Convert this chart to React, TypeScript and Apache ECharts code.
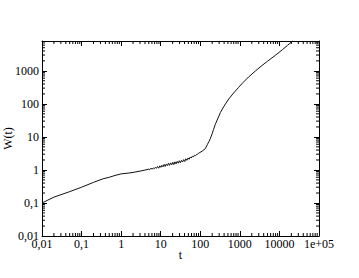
import React, { useEffect, useRef } from 'react';
import * as echarts from 'echarts';

const tValues = [
  0.01, 0.02, 0.05, 0.1, 0.2, 0.35, 0.5, 0.7, 1, 1.5, 2, 3, 4,
  5, 5.3, 5.7, 6.1, 6.5, 6.9, 7.3, 7.8, 8.3, 8.9, 9.5, 10.1, 10.7, 11.4, 12.2, 13, 13.8, 14.7,
  15.7, 16.7, 17.8, 19, 20.2, 21.5, 22.9, 24.4, 26, 27.7, 29.5, 31.4, 33.5, 35.7, 38, 40.5,
  43.1, 45.9, 48.9, 52.1, 55.5, 59.1, 62.9, 67, 71.4, 76, 81, 86.2, 91.8, 97.8,
  100, 115, 134, 150, 165, 178, 200, 215, 240, 280, 323, 400, 525, 700, 935, 1200, 1660,
  2500, 3600, 5000, 7900, 12000, 16000, 21000, 22000,
];
const wValues = [
  0.1, 0.15, 0.22, 0.3, 0.42, 0.54, 0.6, 0.68, 0.76, 0.8, 0.84, 0.92, 0.99,
  1.06, 1.03, 1.12, 1.05, 1.15, 1.09, 1.2, 1.12, 1.27, 1.13, 1.33, 1.2, 1.38, 1.24, 1.47, 1.27, 1.5, 1.35,
  1.6, 1.37, 1.63, 1.44, 1.7, 1.45, 1.76, 1.52, 1.81, 1.6, 1.9, 1.64, 1.95, 1.74, 2.05, 1.8,
  2.17, 1.96, 2.3, 2.1, 2.45, 2.3, 2.6, 2.48, 2.78, 2.7, 2.97, 3.02, 3.24, 3.36,
  3.45, 3.8, 4.4, 5.8, 7.2, 8.7, 12.5, 16.5, 24, 37, 55, 86, 141, 215, 318, 440, 650,
  1000, 1440, 1950, 2950, 4400, 5900, 7800, 8200,
];

const xMin = 0.01;
const xMax = 100000;
const yMin = 0.01;
const yMax = 8000;

const xTickExps = [-2, -1, 0, 1, 2, 3, 4, 5];
const xTickLabels = ['0,01', '0,1', '1', '10', '100', '1000', '10000', '1e+05'];
const yTickExps = [-2, -1, 0, 1, 2, 3];
const yTickLabels = ['0,01', '0,1', '1', '10', '100', '1000'];
const minorMultipliers = [2, 3, 4, 5, 6, 7, 8, 9];

function minorTicks(lo: number, hi: number): number[] {
  const out: number[] = [];
  for (let e = Math.floor(Math.log10(lo)); e <= Math.ceil(Math.log10(hi)); e++) {
    for (const m of minorMultipliers) {
      const v = m * Math.pow(10, e);
      if (v > lo && v < hi) out.push(v);
    }
  }
  return out;
}

const FONT = "'Liberation Serif', 'Times New Roman', serif";
const INK = '#000';

function labelFor(exps: number[], labels: string[]) {
  return (v: number) => {
    const e = Math.log10(v);
    const r = Math.round(e);
    if (Math.abs(e - r) > 1e-6) return '';
    const i = exps.indexOf(r);
    return i >= 0 ? labels[i] : '';
  };
}

export default function App() {
  const ref = useRef<HTMLDivElement>(null);
  useEffect(() => {
    if (!ref.current) return;
    const chart = echarts.init(ref.current, undefined, { renderer: 'svg' });
    const axisLine = { show: true, lineStyle: { color: INK, width: 1 } };
    const majorTick = { show: true, inside: true, length: 5, lineStyle: { color: INK, width: 1 } };
    const xMinor = minorTicks(xMin, xMax);
    const yMinor = minorTicks(yMin, yMax);
    chart.setOption({
      animation: false,
      backgroundColor: '#fff',
      grid: { left: 42, right: 40, top: 41, bottom: 42, containLabel: false, outerBoundsMode: 'none' },
      xAxis: [
        {
          type: 'log', min: xMin, max: xMax, logBase: 10, position: 'bottom',
          name: 't', nameLocation: 'middle', nameGap: 13, nameMoveOverlap: false,
          nameTextStyle: { fontFamily: FONT, fontSize: 12, color: INK },
          axisLine, axisTick: majorTick, splitLine: { show: false },
          axisLabel: { fontFamily: FONT, fontSize: 12, color: INK, margin: 2, showMinLabel: true, showMaxLabel: true, hideOverlap: false, formatter: labelFor(xTickExps, xTickLabels) },
        },
        {
          type: 'log', min: xMin, max: xMax, logBase: 10, position: 'top',
          axisLine, axisTick: majorTick, splitLine: { show: false }, axisLabel: { show: false },
        },
      ],
      yAxis: [
        {
          type: 'log', min: yMin, max: yMax, logBase: 10, position: 'left',
          name: 'W(t)', nameLocation: 'middle', nameGap: 28, nameMoveOverlap: false,
          nameTextStyle: { fontFamily: FONT, fontSize: 12, color: INK },
          axisLine, axisTick: majorTick, splitLine: { show: false },
          axisLabel: { fontFamily: FONT, fontSize: 12, color: INK, margin: 3, showMinLabel: true, showMaxLabel: true, hideOverlap: false, formatter: labelFor(yTickExps, yTickLabels) },
        },
        {
          type: 'log', min: yMin, max: yMax, logBase: 10, position: 'right',
          axisLine, axisTick: majorTick, splitLine: { show: false }, axisLabel: { show: false },
        },
      ],
      series: [
        {
          type: 'line',
          data: tValues.map((t, i) => [t, wValues[i]]),
          showSymbol: false,
          symbol: 'none',
          lineStyle: { color: '#111', width: 1 },
          clip: true,
          silent: true,
        },
        {
          type: 'custom',
          silent: true,
          data: xMinor.map((v) => [v, yMin]),
          renderItem: (_p: any, api: any) => {
            const v = api.value(0);
            const b = api.coord([v, yMin]);
            const t = api.coord([v, yMax]);
            const style = { stroke: INK, lineWidth: 1 };
            return {
              type: 'group',
              children: [
                { type: 'line', shape: { x1: b[0], y1: b[1], x2: b[0], y2: b[1] - 3 }, style },
                { type: 'line', shape: { x1: t[0], y1: t[1], x2: t[0], y2: t[1] + 3 }, style },
              ],
            };
          },
        },
        {
          type: 'custom',
          silent: true,
          data: yMinor.map((v) => [xMin, v]),
          renderItem: (_p: any, api: any) => {
            const v = api.value(1);
            const l = api.coord([xMin, v]);
            const r = api.coord([xMax, v]);
            const style = { stroke: INK, lineWidth: 1 };
            return {
              type: 'group',
              children: [
                { type: 'line', shape: { x1: l[0], y1: l[1], x2: l[0] + 3, y2: l[1] }, style },
                { type: 'line', shape: { x1: r[0], y1: r[1], x2: r[0] - 3, y2: r[1] }, style },
              ],
            };
          },
        },
      ],
    });
    return () => chart.dispose();
  }, []);
  return <div ref={ref} style={{ position: 'fixed', left: 0, top: 0, width: 359, height: 278 }} />;
}
